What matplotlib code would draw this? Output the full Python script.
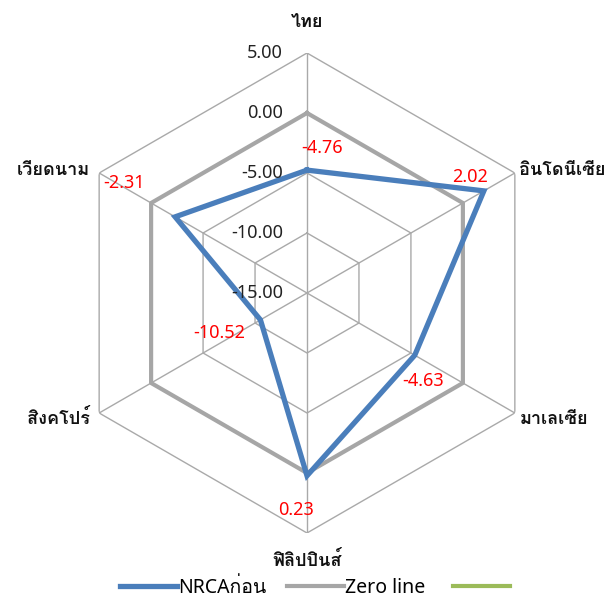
import numpy as np
import matplotlib
matplotlib.use("Agg")
import matplotlib.pyplot as plt
from matplotlib.lines import Line2D

latin_thai = ['Noto Sans', 'Loma', 'Noto Sans Thai Looped', 'Noto Sans Thai', 'DejaVu Sans']
thai_first = ['Loma', 'Noto Sans Thai Looped', 'Noto Sans Thai', 'Noto Sans', 'DejaVu Sans']
plt.rcParams['font.family'] = latin_thai

# Data
categories = ['ไทย', 'อินโดนีเซีย', 'มาเลเซีย', 'ฟิลิปปินส์', 'สิงคโปร์', 'เวียดนาม']
nrca_before = [-4.76, 2.02, -4.63, 0.23, -10.52, -2.31]
zero_line = [0.0, 0.0, 0.0, 0.0, 0.0, 0.0]
ring_values = [-15, -10, -5, 0, 5]
ring_labels = ['-15.00', '-10.00', '-5.00', '0.00', '5.00']
legend_labels = ['NRCAก่อน', 'Zero line', '']

# Styling
blue = '#4a7ebb'
zero_gray = '#a6a6a6'
grid_gray = '#a9a9a9'
green = '#9bbb59'

# label placement (pixel offsets from the point they belong to)
value_offsets = [(15, 22), (-14, 14), (8, -26), (-11, -34), (-41, -13), (-51, 34)]
cat_offsets = [(0, 31), (5, 3), (5, -6), (0, -27), (-9, -5), (-9, 3)]
cat_align = ['center', 'left', 'left', 'center', 'right', 'right']
legend_x_px = [120, 287, 453]
legend_y_px = 588

n = len(categories)
theta = np.arange(n) * 2 * np.pi / n

def closed(vals):
    return np.append(theta, theta[0]), np.append(vals, vals[0])

W, H = 611, 597
fig = plt.figure(figsize=(W / 100, H / 100), dpi=100)
ax = fig.add_axes([67 / W, 64 / H, 480 / W, 480 / H], projection='polar')
ax.set_theta_offset(np.pi / 2)
ax.set_theta_direction(-1)
ax.set_ylim(ring_values[0], ring_values[-1])
ax.grid(False)
ax.set_xticks([])
ax.set_yticks([])
ax.spines['polar'].set_visible(False)

# hexagonal grid rings and spokes
for rv in ring_values[1:]:
    t, r = closed([rv] * n)
    ax.plot(t, r, color=grid_gray, lw=1.0, zorder=1)
for t in theta:
    ax.plot([t, t], [ring_values[0], ring_values[-1]], color=grid_gray, lw=1.0, zorder=1)

# series
t, r = closed(zero_line)
zero_ln, = ax.plot(t, r, color=zero_gray, lw=3.0, zorder=2)
t, r = closed(nrca_before)
nrca_ln, = ax.plot(t, r, color=blue, lw=3.8, zorder=3, solid_joinstyle='miter')
green_ln = Line2D([], [], color=green, lw=3.0)

# ring value labels along the top spoke
for rv, lab in zip(ring_values, ring_labels):
    ax.annotate(lab, xy=(0, rv), xytext=(-24, 0), textcoords='offset pixels',
                ha='right', va='center', fontsize=13, color='#222222')

# data labels
for ti, v, off in zip(theta, nrca_before, value_offsets):
    ax.annotate(f'{v:.2f}', xy=(ti, v), xytext=off, textcoords='offset pixels',
                ha='center', va='center', fontsize=13, color='#ff0000')

# category labels
for ti, cat, off, ha in zip(theta, categories, cat_offsets, cat_align):
    ax.annotate(cat, xy=(ti, ring_values[-1]), xytext=off, textcoords='offset pixels',
                ha=ha, va='center', fontsize=13, fontweight='bold', color='#111111',
                family=thai_first, annotation_clip=False)

# legend, one entry per block
for handle, lab, xp in zip([nrca_ln, zero_ln, green_ln], legend_labels, legend_x_px):
    fig.legend([handle], [lab], loc='center left',
               bbox_to_anchor=(xp / W, 1 - legend_y_px / H),
               frameon=False, fontsize=14, handlelength=2.93,
               handletextpad=0.05, borderpad=0, borderaxespad=0)

fig.savefig('out.png', dpi=100, facecolor='white')
